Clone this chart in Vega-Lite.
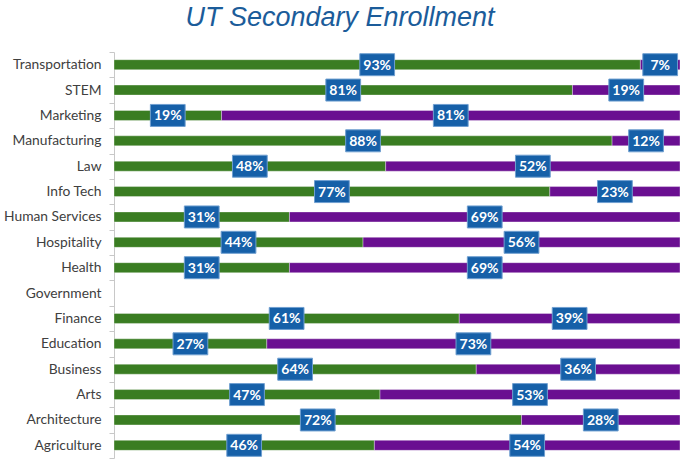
{
  "$schema": "https://vega.github.io/schema/vega-lite/v6.json",
  "width": 566,
  "height": 406,
  "autosize": "none",
  "padding": {"left": 114, "top": 52, "right": 0, "bottom": 1},
  "background": "white",
  "title": {
    "text": "UT Secondary Enrollment",
    "font": "Liberation Sans",
    "fontSize": 27,
    "fontStyle": "italic",
    "fontWeight": "normal",
    "color": "#1B5C9A",
    "anchor": "middle",
    "dx": -57,
    "offset": 13
  },
  "data": {
    "values": [
      {"cat": "Transportation", "series": "Series 1", "order": 1, "value": 93, "label": "93%"},
      {"cat": "Transportation", "series": "Series 2", "order": 2, "value": 7, "label": "7%"},
      {"cat": "STEM", "series": "Series 1", "order": 1, "value": 81, "label": "81%"},
      {"cat": "STEM", "series": "Series 2", "order": 2, "value": 19, "label": "19%"},
      {"cat": "Marketing", "series": "Series 1", "order": 1, "value": 19, "label": "19%"},
      {"cat": "Marketing", "series": "Series 2", "order": 2, "value": 81, "label": "81%"},
      {"cat": "Manufacturing", "series": "Series 1", "order": 1, "value": 88, "label": "88%"},
      {"cat": "Manufacturing", "series": "Series 2", "order": 2, "value": 12, "label": "12%"},
      {"cat": "Law", "series": "Series 1", "order": 1, "value": 48, "label": "48%"},
      {"cat": "Law", "series": "Series 2", "order": 2, "value": 52, "label": "52%"},
      {"cat": "Info Tech", "series": "Series 1", "order": 1, "value": 77, "label": "77%"},
      {"cat": "Info Tech", "series": "Series 2", "order": 2, "value": 23, "label": "23%"},
      {"cat": "Human Services", "series": "Series 1", "order": 1, "value": 31, "label": "31%"},
      {"cat": "Human Services", "series": "Series 2", "order": 2, "value": 69, "label": "69%"},
      {"cat": "Hospitality", "series": "Series 1", "order": 1, "value": 44, "label": "44%"},
      {"cat": "Hospitality", "series": "Series 2", "order": 2, "value": 56, "label": "56%"},
      {"cat": "Health", "series": "Series 1", "order": 1, "value": 31, "label": "31%"},
      {"cat": "Health", "series": "Series 2", "order": 2, "value": 69, "label": "69%"},
      {"cat": "Finance", "series": "Series 1", "order": 1, "value": 61, "label": "61%"},
      {"cat": "Finance", "series": "Series 2", "order": 2, "value": 39, "label": "39%"},
      {"cat": "Education", "series": "Series 1", "order": 1, "value": 27, "label": "27%"},
      {"cat": "Education", "series": "Series 2", "order": 2, "value": 73, "label": "73%"},
      {"cat": "Business", "series": "Series 1", "order": 1, "value": 64, "label": "64%"},
      {"cat": "Business", "series": "Series 2", "order": 2, "value": 36, "label": "36%"},
      {"cat": "Arts", "series": "Series 1", "order": 1, "value": 47, "label": "47%"},
      {"cat": "Arts", "series": "Series 2", "order": 2, "value": 53, "label": "53%"},
      {"cat": "Architecture", "series": "Series 1", "order": 1, "value": 72, "label": "72%"},
      {"cat": "Architecture", "series": "Series 2", "order": 2, "value": 28, "label": "28%"},
      {"cat": "Agriculture", "series": "Series 1", "order": 1, "value": 46, "label": "46%"},
      {"cat": "Agriculture", "series": "Series 2", "order": 2, "value": 54, "label": "54%"}
    ]
  },
  "transform": [
    {"stack": "value", "groupby": ["cat"], "sort": [{"field": "order", "order": "ascending"}], "as": ["v0", "v1"]}
  ],
  "encoding": {
    "y": {
      "field": "cat",
      "type": "nominal",
      "sort": ["Transportation", "STEM", "Marketing", "Manufacturing", "Law", "Info Tech", "Human Services", "Hospitality", "Health", "Government", "Finance", "Education", "Business", "Arts", "Architecture", "Agriculture"],
      "scale": {"domain": ["Transportation", "STEM", "Marketing", "Manufacturing", "Law", "Info Tech", "Human Services", "Hospitality", "Health", "Government", "Finance", "Education", "Business", "Arts", "Architecture", "Agriculture"], "paddingInner": 0, "paddingOuter": 0},
      "axis": {
        "title": null,
        "domainColor": "#C8C8C8",
        "tickColor": "#C8C8C8",
        "tickBand": "extent",
        "tickSize": 5,
        "labelPadding": 8,
        "labelFont": "Lato",
        "labelFontSize": 13.8,
        "labelColor": "#404040"
      }
    }
  },
  "layer": [
    {
      "mark": {"type": "bar", "height": 10, "stroke": "#ffffff", "strokeOpacity": 0.35, "strokeWidth": 1},
      "encoding": {
        "x": {"field": "v0", "type": "quantitative", "scale": {"domain": [0, 100], "nice": false}, "axis": null},
        "x2": {"field": "v1"},
        "color": {
          "field": "series",
          "type": "nominal",
          "scale": {"domain": ["Series 1", "Series 2"], "range": ["#3A7D22", "#6A0F91"]},
          "legend": null
        }
      }
    },
    {
      "transform": [
        {"fold": ["v0", "v1"], "as": ["k", "pos"]},
        {"aggregate": [{"op": "mean", "field": "pos", "as": "mid"}], "groupby": ["cat", "series", "label"]}
      ],
      "layer": [
        {
          "mark": {"type": "point", "shape": "M-1.58,-1H1.58V1H-1.58Z", "size": 484, "filled": true, "fill": "#1660A8", "stroke": "#6F9FD0", "strokeWidth": 1, "opacity": 1},
          "encoding": {
            "x": {"field": "mid", "type": "quantitative"}
          }
        },
        {
          "mark": {"type": "text", "font": "Lato", "fontSize": 14, "fontWeight": "bold", "color": "#FFFFFF", "align": "center", "baseline": "middle", "dy": 1},
          "encoding": {
            "x": {"field": "mid", "type": "quantitative"},
            "text": {"field": "label"}
          }
        }
      ]
    }
  ],
  "config": {"view": {"stroke": null}}
}
